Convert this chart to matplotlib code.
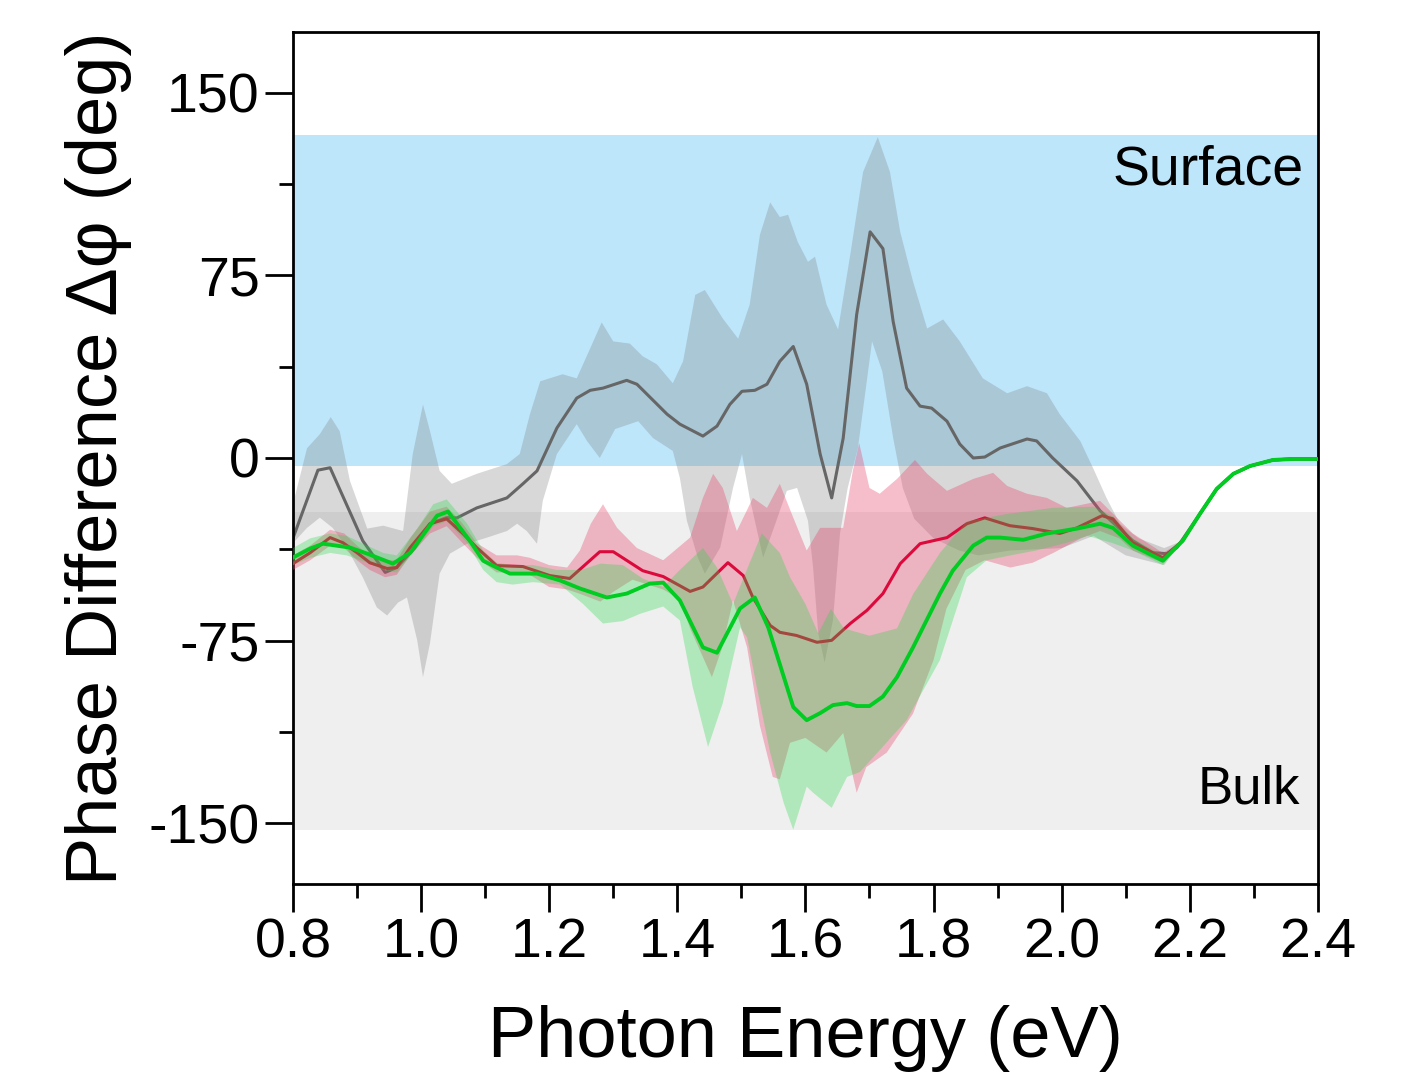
import numpy as np
import matplotlib
matplotlib.use("Agg")
import matplotlib.pyplot as plt
from matplotlib.ticker import MultipleLocator

plt.rcParams["font.family"] = ["Liberation Sans", "DejaVu Sans"]
plt.rcParams["axes.unicode_minus"] = False

# gemeinsamer Auslauf ab 2.16 eV
tail_x = [2.189, 2.216, 2.242, 2.268, 2.294, 2.33, 2.361, 2.40]
tail_y = [-34, -22.9, -12.7, -6.5, -3.3, -0.8, -0.4, -0.4]

# graue Kurve (Mittelwert)
gray_x = [0.80, 0.839, 0.858, 0.909, 0.944, 0.962, 0.99, 1.014, 1.04, 1.056, 1.087,
          1.134, 1.159, 1.181, 1.212, 1.243, 1.264, 1.284, 1.321, 1.337, 1.384,
          1.404, 1.44, 1.462, 1.482, 1.501, 1.521, 1.540, 1.560, 1.581, 1.602,
          1.623, 1.641, 1.659, 1.680, 1.701, 1.721, 1.737, 1.758, 1.779, 1.797,
          1.821, 1.841, 1.862, 1.88, 1.904, 1.946, 1.961, 1.986, 2.024, 2.06,
          2.111, 2.142, 2.164, 2.18] + tail_x[1:]
gray_y = [-33, -5, -4, -34, -47, -45, -37, -27, -24.5, -24.6, -20.5,
          -16.4, -10.6, -5.3, 12.3, 24.6, 27.8, 28.7, 31.9, 30.3, 18,
          13.9, 9, 13.1, 22, 27.4, 27.8, 30.3, 39.7, 45.8, 30.3,
          1.6, -16.4, 8.2, 58.9, 92.9, 86, 56, 28.7, 21.3, 20.5,
          15.1, 5.7, 0, 0.4, 4.1, 7.8, 7, 0, -9.4, -21.7,
          -34, -38.9, -39.3, -36.8] + tail_y[1:]

gray_up_x = [0.80, 0.822, 0.842, 0.859, 0.873, 0.889, 0.916, 0.941, 0.972, 0.987,
             1.003, 1.014, 1.029, 1.048, 1.087, 1.134, 1.154, 1.17, 1.186, 1.221,
             1.243, 1.264, 1.282, 1.30, 1.326, 1.346, 1.368, 1.393, 1.409, 1.428,
             1.443, 1.471, 1.495, 1.513, 1.529, 1.545, 1.560, 1.573, 1.588, 1.604,
             1.615, 1.633, 1.651, 1.67, 1.69, 1.713, 1.732, 1.748, 1.768, 1.79,
             1.815, 1.841, 1.877, 1.915, 1.946, 1.977, 1.997, 2.029, 2.049, 2.07,
             2.091, 2.12, 2.16] + tail_x
gray_up_y = [-19, 4, 9.8, 16.8, 11, -9.4, -29, -27.8, -30, 1.6,
             22, 11, -5.3, -10.6, -6.5, -2.5, 1.6, 18, 31.5, 34.4,
             32.7, 45, 55.7, 47.9, 47, 41.8, 38.5, 30.7, 39.7, 67,
             69, 57.3, 49, 63, 91.7, 105, 99, 99.9, 88.8, 80.6,
             82.7, 63, 52.8, 83.5, 117.5, 131.8, 117.5, 92.9, 72.5, 53.2,
             56.9, 47.9, 32.7, 26.6, 29.5, 26.6, 18, 7, -4.1, -16.4,
             -27, -33, -37] + tail_y
gray_lo_x = [0.80, 0.822, 0.842, 0.862, 0.884, 0.909, 0.931, 0.947, 0.964, 0.978,
             0.994, 1.003, 1.014, 1.029, 1.045, 1.072, 1.103, 1.134, 1.15, 1.165,
             1.181, 1.19, 1.212, 1.243, 1.259, 1.279, 1.303, 1.339, 1.362, 1.393,
             1.404, 1.415, 1.432, 1.443, 1.467, 1.487, 1.501, 1.513, 1.534, 1.549,
             1.571, 1.587, 1.604, 1.612, 1.62, 1.63, 1.643, 1.654, 1.666, 1.682,
             1.704, 1.72, 1.737, 1.752, 1.77, 1.80, 1.84, 1.87, 1.92, 2.0,
             2.05, 2.1, 2.16] + tail_x
gray_lo_y = [-35, -28.7, -24.5, -28.7, -36.8, -49, -61.4, -64.7, -59.4, -57.3,
             -74.9, -90, -76, -47.5, -39.3, -35.2, -32.7, -30, -27, -30,
             -35.2, -17.6, 1.6, 13.9, 7, 0, 11.9, 15.1, 8.2, 2.9,
             -8.2, -25.8, -40.9, -47.5, -36.8, -12.3, 1.6, -16.4, -40.9, -30,
             -13.5, -12.3, -25.8, -45, -72, -84, -66.7, -31, -12.3, 4.1,
             47.9, 35.6, 8.2, -12.3, -25, -33, -38, -40, -38, -37,
             -32, -40, -44] + tail_y

# rote Kurve
red_x = [0.80, 0.827, 0.858, 0.878, 0.90, 0.92, 0.947, 0.962, 0.983, 1.014, 1.04,
         1.065, 1.087, 1.118, 1.159, 1.201, 1.232, 1.279, 1.30, 1.346, 1.378,
         1.42, 1.44, 1.479, 1.503, 1.518, 1.545, 1.56, 1.586, 1.618, 1.641,
         1.67, 1.696, 1.721, 1.748, 1.779, 1.821, 1.852, 1.88, 1.919, 1.955,
         1.997, 2.024, 2.063, 2.08, 2.111, 2.158] + tail_x
red_y = [-43.4, -38.9, -32.7, -34.8, -38.9, -43, -45.4, -45, -36.8, -27, -25,
         -31, -36.8, -44.2, -44.6, -48.3, -49.5, -38.5, -38.5, -46.3, -48.7,
         -54.8, -53, -43, -48.3, -57.3, -68.8, -71.6, -72.9, -75.7, -74.9,
         -68, -62.6, -55.7, -43.4, -35.2, -32.7, -27, -24.6, -27.8, -29,
         -31, -28.7, -23.7, -25, -34.8, -41] + tail_y

red_up_x = [0.80, 0.827, 0.858, 0.88, 0.90, 0.92, 0.944, 0.962, 0.983, 1.014,
            1.04, 1.065, 1.087, 1.118, 1.15, 1.17, 1.20, 1.228, 1.248, 1.265,
            1.284, 1.306, 1.337, 1.378, 1.42, 1.44, 1.456, 1.471, 1.493, 1.518,
            1.54, 1.56, 1.581, 1.602, 1.623, 1.659, 1.674, 1.684, 1.70, 1.716,
            1.743, 1.771, 1.79, 1.821, 1.862, 1.893, 1.915, 1.946, 1.977, 2.008,
            2.039, 2.06, 2.091, 2.111, 2.158] + tail_x
red_up_y = [-40, -36, -29.5, -31, -36, -40, -42, -42, -33, -22,
            -20, -27, -35, -40, -40, -41, -44, -45, -38, -27,
            -19, -28.7, -37, -42, -32.7, -16.4, -6.5, -12.3, -30, -16.4,
            -20.5, -10.6, -24.5, -38, -28.7, -28.7, -5.3, 6.1, -12.3, -14.7,
            -8.6, -0.8, -6.5, -13.5, -8.6, -6.1, -11.5, -14.7, -16.4, -20.5,
            -18.8, -17.6, -25.8, -31, -39] + tail_y
red_lo_x = [0.80, 0.827, 0.858, 0.88, 0.90, 0.92, 0.944, 0.962, 0.983, 1.014,
            1.04, 1.065, 1.087, 1.118, 1.15, 1.17, 1.20, 1.228, 1.25, 1.28,
            1.30, 1.33, 1.378, 1.404, 1.42, 1.454, 1.47, 1.487, 1.509, 1.529,
            1.549, 1.56, 1.576, 1.60, 1.633, 1.659, 1.68, 1.695, 1.727, 1.768,
            1.80, 1.82, 1.85, 1.88, 1.92, 1.955, 1.987, 2.03, 2.06, 2.09,
            2.111, 2.158] + tail_x
red_lo_y = [-46, -42, -36, -37, -42, -46, -49, -48, -40, -31,
            -28, -35, -41, -47, -47, -48, -53, -54, -56, -59,
            -55, -50, -54, -58, -70, -90, -78, -58.5, -77.8, -110,
            -131, -132, -117, -115, -121, -113, -137.5, -127, -121, -105,
            -83, -62, -46, -42, -45, -43, -39, -33, -30, -33,
            -38, -43] + tail_y

# grüne Kurve
green_x = [0.80, 0.827, 0.847, 0.889, 0.916, 0.956, 0.983, 1.025, 1.042, 1.076,
           1.097, 1.118, 1.139, 1.181, 1.217, 1.248, 1.29, 1.321, 1.357, 1.378,
           1.404, 1.44, 1.462, 1.498, 1.521, 1.542, 1.581, 1.602, 1.623, 1.643,
           1.665, 1.68, 1.70, 1.721, 1.743, 1.768, 1.81, 1.83, 1.862, 1.883,
           1.904, 1.94, 1.977, 2.024, 2.06, 2.08, 2.111, 2.158] + tail_x
green_y = [-40.9, -37.2, -35.2, -36.8, -39.3, -43.4, -38.9, -23.7, -22, -34,
           -42.2, -45, -47.5, -47.5, -50.3, -53.6, -57.3, -55.7, -51.6, -51.2,
           -58.5, -77.8, -80, -61.8, -57.3, -69.6, -102.3, -107.7, -104.8, -101.5,
           -100.7, -101.9, -101.9, -98, -90, -77.8, -55.7, -46.3, -36, -32.7,
           -32.7, -33.6, -31, -29, -27, -28.7, -36, -42.2] + tail_y

green_up_x = [0.80, 0.827, 0.858, 0.884, 0.916, 0.941, 0.962, 0.994, 1.019, 1.04,
              1.072, 1.097, 1.118, 1.143, 1.175, 1.212, 1.25, 1.28, 1.315, 1.346,
              1.378, 1.404, 1.44, 1.462, 1.487, 1.51, 1.532, 1.56, 1.576, 1.60,
              1.62, 1.64, 1.66, 1.70, 1.743, 1.768, 1.81, 1.852, 1.915, 1.986,
              2.05, 2.08, 2.111, 2.158] + tail_x
green_up_y = [-37, -33, -31, -32, -36, -39, -40, -29, -19, -17,
              -27, -38, -43, -44, -44, -46, -46, -43.4, -44, -49.5,
              -53, -46, -37, -45, -60, -45, -31, -39, -49, -60,
              -72, -62, -70, -73, -70, -56, -39, -26, -23, -20.5,
              -20, -24, -33, -40] + tail_y
green_lo_x = [0.80, 0.827, 0.858, 0.884, 0.916, 0.941, 0.962, 0.994, 1.019, 1.04,
              1.072, 1.097, 1.118, 1.143, 1.175, 1.217, 1.253, 1.284, 1.315, 1.342,
              1.378, 1.404, 1.424, 1.448, 1.471, 1.498, 1.509, 1.524, 1.545, 1.566,
              1.581, 1.602, 1.612, 1.641, 1.665, 1.685, 1.716, 1.758, 1.81, 1.852,
              1.883, 1.92, 1.96, 2.008, 2.04, 2.08, 2.111, 2.158] + tail_x
green_lo_y = [-44, -41, -39, -40, -43, -46, -47, -37, -28, -26,
              -35, -46, -51, -52, -51, -52, -60, -68, -67, -64,
              -61, -66.7, -94, -118.7, -100.7, -69.6, -73.7, -94, -121, -141.6,
              -152.7, -135, -137.5, -143.7, -131, -129, -120, -107.7, -83, -49,
              -42, -40, -38, -34.8, -32, -35, -38, -44] + tail_y

fig = plt.figure(figsize=(14.05, 10.88), dpi=100)
ax = fig.add_axes([0.2085, 0.1875, 0.7295, 0.7831])

# Hintergrundbereiche Surface / Bulk
ax.axhspan(-3.3, 132.6, color="#bde6fb", lw=0, zorder=0)
ax.axhspan(-153, -22, color="#efefef", lw=0, zorder=0)

# Fehlerbänder und Linien (rote Linie liegt unter dem grünen Band)
ax.fill(gray_up_x + gray_lo_x[::-1], gray_up_y + gray_lo_y[::-1],
        color="#808080", alpha=0.3, lw=0, zorder=1)
ax.plot(gray_x, gray_y, color="#666666", lw=2.2, zorder=2)
ax.fill(red_up_x + red_lo_x[::-1], red_up_y + red_lo_y[::-1],
        color="#e8436b", alpha=0.35, lw=0, zorder=3)
ax.plot(red_x, red_y, color="#dc0a3c", lw=2.2, zorder=4)
ax.fill(green_up_x + green_lo_x[::-1], green_up_y + green_lo_y[::-1],
        color="#22d844", alpha=0.3, lw=0, zorder=5)
ax.plot(green_x, green_y, color="#00cc22", lw=2.8, zorder=6)

ax.text(2.377, 118, "Surface", fontsize=40, ha="right", va="center", zorder=7)
ax.text(2.372, -136, "Bulk", fontsize=38, ha="right", va="center", zorder=7)

ax.set_xlim(0.8, 2.4)
ax.set_ylim(-175, 175)
ax.xaxis.set_major_locator(MultipleLocator(0.2))
ax.xaxis.set_minor_locator(MultipleLocator(0.1))
ax.yaxis.set_major_locator(MultipleLocator(75))
ax.yaxis.set_minor_locator(MultipleLocator(37.5))
ax.set_xticks([0.8, 1.0, 1.2, 1.4, 1.6, 1.8, 2.0, 2.2, 2.4])
ax.set_xticklabels(["0.8", "1.0", "1.2", "1.4", "1.6", "1.8", "2.0", "2.2", "2.4"])
ax.tick_params(which="major", direction="out", length=20, width=2,
               labelsize=40, pad=4)
ax.tick_params(which="minor", direction="out", length=10, width=2)
ax.tick_params(top=False, right=False, which="both")
for s in ax.spines.values():
    s.set_linewidth(2)

ax.set_xlabel("Photon Energy (eV)", fontsize=52, labelpad=26)
ax.set_ylabel("Phase Difference Δφ (deg)", fontsize=52, labelpad=12)

fig.savefig("out.png", dpi=100)
